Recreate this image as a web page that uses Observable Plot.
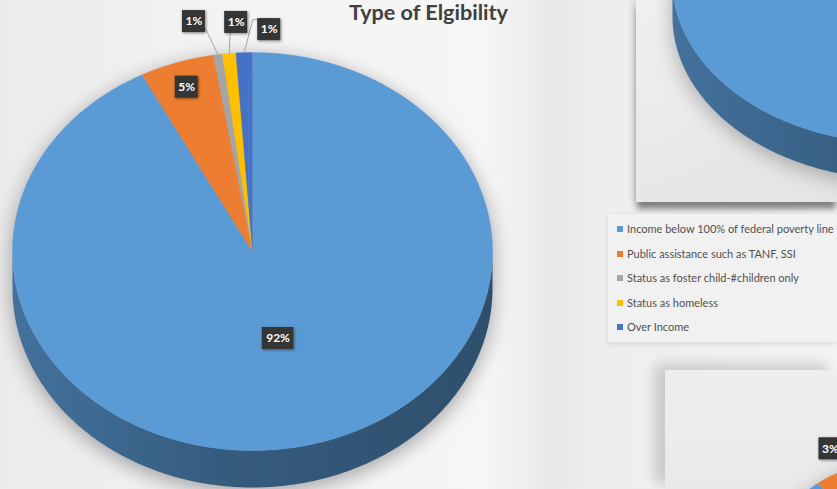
<!DOCTYPE html>
<html>
<head>
<meta charset="utf-8">
<script src="https://cdn.jsdelivr.net/npm/d3@7"></script>
<script src="https://cdn.jsdelivr.net/npm/@observablehq/plot@0.6"></script>
<style>
  html, body { margin: 0; padding: 0; }
  #wrap {
    position: relative; width: 837px; height: 489px; overflow: hidden;
    background: linear-gradient(90deg, #ebebeb 0%, #f4f4f4 30%, #f6f6f6 58%, #e8e8e8 66%, #eeeeee 72%, #f3f3f3 100%);
    font-family: Lato, "Open Sans", sans-serif;
  }
  .panel { position: absolute; }
  #panelTR { left: 636px; top: 0; width: 201px; height: 202px;
    background: linear-gradient(160deg, #f0f0f0 0%, #e4e4e4 100%);
    box-shadow: -4px 0 6px rgba(0,0,0,0.10), 0 8px 6px -1px rgba(0,0,0,0.45); }
  #panelLeg { left: 608px; top: 214px; width: 229px; height: 128px;
    background: #f1f1f1; box-shadow: 0 2px 6px rgba(0,0,0,0.10); }
  #panelBR { left: 665px; top: 370px; width: 172px; height: 119px;
    background: linear-gradient(180deg, #eeeeee 0%, #e9e9e9 100%);
    box-shadow: -10px -6px 12px rgba(0,0,0,0.16); }
  #chart { position: absolute; left: 0; top: 0; }
  #title { position: absolute; left: 349px; top: 2px; font: bold 21.6px/21px Lato, "Open Sans", sans-serif;
    color: #404040; white-space: nowrap; }
  #legend { position: absolute; left: 614px; top: 217px; font-size: 11px; color: #505050;
    font-family: "Liberation Sans Narrow", "Arial Narrow", Lato, sans-serif; }
  #legend .row { height: 24.5px; line-height: 24.5px; white-space: nowrap; display: flex; align-items: center; }
  #legend .sw { width: 6px; height: 6px; margin-left: 3px; margin-right: 4px; flex: none; }
</style>
</head>
<body>
<div id="wrap">
  <div class="panel" id="panelTR"></div>
  <div class="panel" id="panelLeg"></div>
  <div class="panel" id="panelBR"></div>
  <div id="chart"></div>
  <div id="title"></div>
  <div id="legend"></div>
</div>
<script>
// ---------------- data ----------------
const chartTitle = "Type of Elgibility";
const categories = [
  "Income below 100% of federal poverty line",
  "Public assistance such as TANF, SSI",
  "Status as foster child-#children only",
  "Status as homeless",
  "Over Income"
];
const values = [92.4, 5.0, 0.6, 0.9, 1.1];           // percent (labels shown rounded)
const colors = ["#5B9BD5", "#ED7D31", "#A5A5A5", "#FFC000", "#4472C4"];

// neighbouring charts that are only partly in view
const insetTopValues = [1];                            // only its blue slice is visible
const insetTopColors = ["#5B9BD5"];
const insetBottomValues = [89, 3, 8];                  // its "3%" slice is visible
const insetBottomColors = ["#5B9BD5", "#ED7D31", "#A5A5A5"];

// ---------------- layout ----------------
const W = 837, H = 489;
const mainGeom = {cx: 252, cy: 251, rx: 240, ry: 199, depth: 37};
const topGeom = {cx: 900, cy: -20, rx: 228, ry: 163, depth: 36};
const botGeom = {cx: 900, cy: 560, rx: 130, ry: 100, depth: 30};
const mainPlacement = [
  {r: 0.45}, {r: 0.87},
  {dx: -24, dy: -33, leader: "br"},
  {dx: 7, dy: -31, leader: "b"},
  {dx: 25, dy: -23, leader: "l"}
];
const botPlacement = [null, {dx: 3, dy: -29}, null];

function pieGeom(vals, cols, g, id) {
  const total = d3.sum(vals);
  let acc = 0;
  const slices = vals.map((v, i) => {
    const a0 = acc / total * 2 * Math.PI; acc += v;
    const a1 = acc / total * 2 * Math.PI;
    return {i, v, a0, a1, pct: v / total * 100, color: cols[i]};
  });
  const pt = (t, dy = 0) => ({x: g.cx + g.rx * Math.sin(t), y: g.cy - g.ry * Math.cos(t) + dy});
  const arc = (a0, a1, dy = 0) => {
    const n = Math.max(2, Math.ceil((a1 - a0) / (Math.PI / 360)));
    return d3.range(n + 1).map(k => pt(a0 + (a1 - a0) * k / n, dy));
  };
  const top = [], side = [];
  for (const s of slices) {
    const sid = id + "-" + s.i;
    const poly = vals.length === 1 ? arc(s.a0, s.a1) : [{x: g.cx, y: g.cy}, ...arc(s.a0, s.a1)];
    poly.forEach(p => top.push({...p, id: sid, color: s.color}));
    const lo = Math.max(s.a0, Math.PI / 2), hi = Math.min(s.a1, 3 * Math.PI / 2);
    if (hi > lo) {
      [...arc(lo, hi), ...arc(lo, hi, g.depth).reverse()]
        .forEach(p => side.push({...p, id: sid, color: s.color, grad: "url(#side" + s.color.slice(1) + ")"}));
    }
  }
  return {slices, top, side, pt, g};
}

function makeLabels(geom, placement) {
  const out = [];
  geom.slices.forEach((s, i) => {
    const pl = placement[i];
    if (!pl) return;
    const mid = (s.a0 + s.a1) / 2;
    let x, y;
    const rim = geom.pt(mid);
    if (pl.r != null) {
      x = geom.g.cx + geom.g.rx * pl.r * Math.sin(mid);
      y = geom.g.cy - geom.g.ry * pl.r * Math.cos(mid);
    } else { x = rim.x + pl.dx; y = rim.y + pl.dy; }
    const text = Math.round(s.pct) + "%";
    const w = 6 + 8.5 * text.length, h = 22;
    out.push({x, y, text, x1: x - w / 2, x2: x + w / 2, y1: y - h / 2, y2: y + h / 2, rim, leader: pl.leader});
  });
  return out;
}

const main = pieGeom(values, colors, mainGeom, "m");
const insetTop = pieGeom(insetTopValues, insetTopColors, topGeom, "t");
const insetBot = pieGeom(insetBottomValues, insetBottomColors, botGeom, "b");
const mainLabels = makeLabels(main, mainPlacement);
const botLabels = makeLabels(insetBot, botPlacement);

const leaders = [];
mainLabels.forEach((l, k) => {
  if (!l.leader) return;
  const pts = [l.rim];
  if (l.leader === "br") pts.push({x: l.x2, y: l.y2 - 4});
  if (l.leader === "b") pts.push({x: l.x - 6, y: l.y2});
  if (l.leader === "l") { pts.push({x: l.x1 - 5, y: l.y1 + 1}); pts.push({x: l.x1, y: l.y1 + 1}); }
  pts.forEach(p => leaders.push({...p, id: "L" + k}));
});

const pieMarks = (geom) => [
  Plot.line(geom.side, {x: "x", y: "y", z: "id", fill: "grad", stroke: "none", curve: "linear"}),
  Plot.line(geom.top, {x: "x", y: "y", z: "id", fill: "color", stroke: "color", strokeWidth: 0.4, curve: "linear"})
];

const allLabels = [...mainLabels, ...botLabels];
const svg = Plot.plot({
  width: W, height: H, margin: 0,
  x: {domain: [0, W], range: [0, W], axis: null},
  y: {domain: [0, H], range: [0, H], axis: null},
  color: {type: "identity"},
  style: {background: "transparent", overflow: "hidden"},
  marks: [
    ...pieMarks(insetTop),
    ...pieMarks(insetBot),
    ...pieMarks(main),
    Plot.line(leaders, {x: "x", y: "y", z: "id", stroke: "#a6a6a6", strokeWidth: 1}),
    Plot.rect(allLabels, {x1: "x1", x2: "x2", y1: "y1", y2: "y2", fill: "#353535"}),
    Plot.text(allLabels, {x: "x", y: "y", text: "text", fill: "white", fontWeight: "bold",
      fontSize: 12, fontFamily: "Lato, 'Open Sans', sans-serif", textAnchor: "middle"})
  ]
});

// mark groups, in the order the marks were given
const groups = Array.from(svg.children).filter(n => n.tagName.toLowerCase() === "g");

// gradients for the pie walls
const defs = d3.select(svg).insert("defs", ":first-child");
new Set(colors.concat(insetTopColors, insetBottomColors)).forEach(c => {
  const base = d3.color(c);
  const gr = defs.append("linearGradient").attr("id", "side" + c.slice(1)).attr("x1", 0).attr("x2", 1).attr("y1", 0).attr("y2", 0);
  gr.append("stop").attr("offset", "0%").attr("stop-color", base.darker(0.85).formatHex());
  gr.append("stop").attr("offset", "45%").attr("stop-color", base.darker(1.5).formatHex());
  gr.append("stop").attr("offset", "100%").attr("stop-color", base.darker(1.9).formatHex());
});

// group each pie (walls + top) so that its shadow is cast as one solid
[[0, 1, 0.28], [2, 3, 0.28], [4, 5, 0.34]].forEach(([si, ti, a]) => {
  const s = groups[si], t = groups[ti];
  if (!t) return;
  const g = document.createElementNS("http://www.w3.org/2000/svg", "g");
  t.parentNode.insertBefore(g, t);
  if (s) g.appendChild(s);
  g.appendChild(t);
  g.setAttribute("style", `filter: drop-shadow(0px 5px 10px rgba(0,0,0,${a}))`);
});
if (groups[7]) groups[7].setAttribute("style", "filter: drop-shadow(1px 1.5px 1.5px rgba(0,0,0,0.45))");

document.getElementById("chart").appendChild(svg);
document.getElementById("title").textContent = chartTitle;

const leg = d3.select("#legend");
categories.forEach((c, i) => {
  const row = leg.append("div").attr("class", "row");
  row.append("span").attr("class", "sw").style("background", colors[i]);
  row.append("span").text(c);
});
</script>
</body>
</html>
